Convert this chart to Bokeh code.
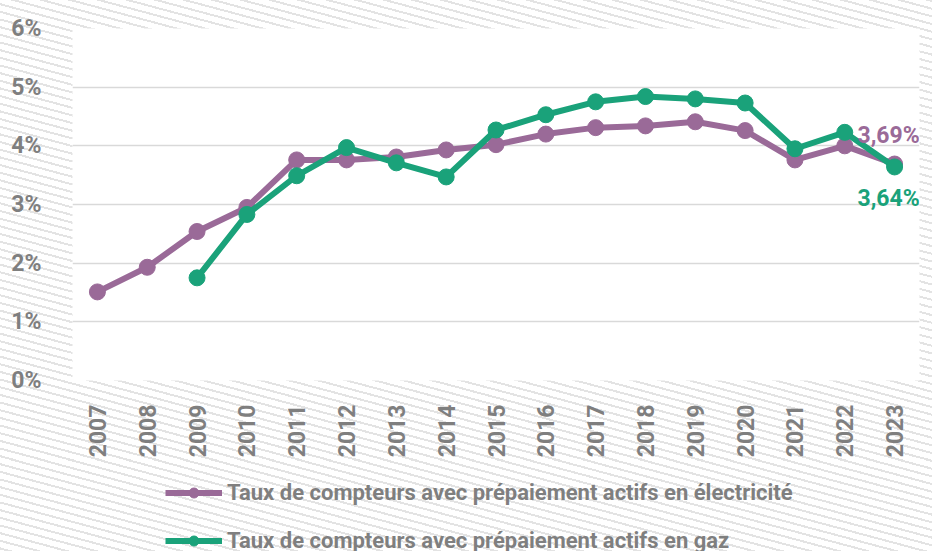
from bokeh.plotting import figure
from bokeh.layouts import column
from bokeh.models import (FactorRange, Range1d, FixedTicker, PrintfTickFormatter,
                          Legend, LegendItem, Label, ColumnDataSource)
from bokeh.embed import file_html
from bokeh.resources import INLINE

years = ["2007", "2008", "2009", "2010", "2011", "2012", "2013", "2014", "2015",
         "2016", "2017", "2018", "2019", "2020", "2021", "2022", "2023"]
elec = [1.51, 1.93, 2.54, 2.95, 3.76, 3.76, 3.81, 3.93, 4.02, 4.20, 4.31, 4.34,
        4.41, 4.26, 3.76, 4.00, 3.69]
gas = [float("nan"), float("nan"), 1.75, 2.83, 3.49, 3.97, 3.71, 3.47, 4.27, 4.53,
       4.75, 4.84, 4.80, 4.73, 3.95, 4.23, 3.64]
y_ticks = [0, 1, 2, 3, 4, 5, 6]
elec_label = "Taux de compteurs avec prépaiement actifs en électricité"
gas_label = "Taux de compteurs avec prépaiement actifs en gaz"

PURPLE = "#9a6a98"
GREEN = "#1aa27a"
GREY = "#7f7f7f"
FONT = "Roboto"
FS = "23px"
HATCH = {"background-image": "repeating-linear-gradient(195deg, #e3e3e3 0px, #e3e3e3 2px, #ffffff 2px, #ffffff 7.4px)"}

src = ColumnDataSource(dict(year=years, elec=elec, gas=gas))

p = figure(width=932, height=460, x_range=FactorRange(*years), y_range=Range1d(0, 6),
           output_backend="svg", toolbar_location=None,
           min_border_left=72, min_border_right=13, min_border_top=28, min_border_bottom=78)
p.styles = HATCH
p.border_fill_alpha = 0
p.background_fill_color = "white"
p.outline_line_color = None

p.xgrid.grid_line_color = None
p.ygrid.grid_line_color = "#d9d9d9"
p.ygrid.grid_line_width = 1.5
p.yaxis.ticker = FixedTicker(ticks=y_ticks)
p.yaxis.formatter = PrintfTickFormatter(format="%d%%")

for ax in (p.xaxis[0], p.yaxis[0]):
    ax.axis_line_color = None
    ax.major_tick_line_color = None
    ax.minor_tick_line_color = None
    ax.major_label_text_font = FONT
    ax.major_label_text_font_style = "bold"
    ax.major_label_text_font_size = FS
    ax.major_label_text_color = GREY
p.yaxis.major_label_standoff = 25
p.xaxis.major_label_standoff = 18
p.xaxis.major_label_orientation = 3.14159265 / 2

p.line("year", "elec", source=src, line_color=PURPLE, line_width=6)
p.scatter("year", "elec", source=src, size=16, fill_color=PURPLE, line_color=PURPLE)
p.line("year", "gas", source=src, line_color=GREEN, line_width=6)
p.scatter("year", "gas", source=src, size=16, fill_color=GREEN, line_color=GREEN)

# synthetic categorical coordinate of the last year's centre
last_x = len(years) - 0.5
p.add_layout(Label(x=last_x, y=elec[-1], text=f"{elec[-1]:.2f}%".replace(".", ","),
                   x_offset=-6, y_offset=29, text_align="center", text_baseline="middle",
                   text_font=FONT, text_font_style="bold", text_font_size=FS,
                   text_color=PURPLE))
p.add_layout(Label(x=last_x, y=gas[-1], text=f"{gas[-1]:.2f}%".replace(".", ","),
                   x_offset=-6, y_offset=-32, text_align="center", text_baseline="middle",
                   text_font=FONT, text_font_style="bold", text_font_size=FS,
                   text_color=GREEN))

# legend strip below the chart (its series sit outside its visible range)
p2 = figure(width=932, height=91, x_range=FactorRange(*years), y_range=Range1d(10, 11),
            output_backend="svg", toolbar_location=None,
            x_axis_location=None, y_axis_location=None,
            min_border_left=0, min_border_right=0, min_border_top=0, min_border_bottom=0)
p2.styles = HATCH
p2.border_fill_alpha = 0
p2.background_fill_alpha = 0
p2.outline_line_color = None
p2.grid.visible = False
k1 = p2.line("year", "elec", source=src, line_color=PURPLE, line_width=6)
m1 = p2.scatter("year", "elec", source=src, size=15, fill_color=PURPLE, line_color=PURPLE)
k2 = p2.line("year", "gas", source=src, line_color=GREEN, line_width=6)
m2 = p2.scatter("year", "gas", source=src, size=15, fill_color=GREEN, line_color=GREEN)

legend = Legend(items=[LegendItem(label=elec_label, renderers=[k1, m1]),
                       LegendItem(label=gas_label, renderers=[k2, m2])],
                location=(93, -2), orientation="vertical",
                glyph_width=57, glyph_height=25, label_height=25, label_standoff=5,
                spacing=23, padding=0, margin=0,
                border_line_color=None, background_fill_alpha=0,
                label_text_font=FONT, label_text_font_style="bold",
                label_text_font_size="22px", label_text_color=GREY)
p2.add_layout(legend, "center")

layout = column(p, p2, spacing=0)
open("out.html", "w").write(file_html(layout, INLINE))
